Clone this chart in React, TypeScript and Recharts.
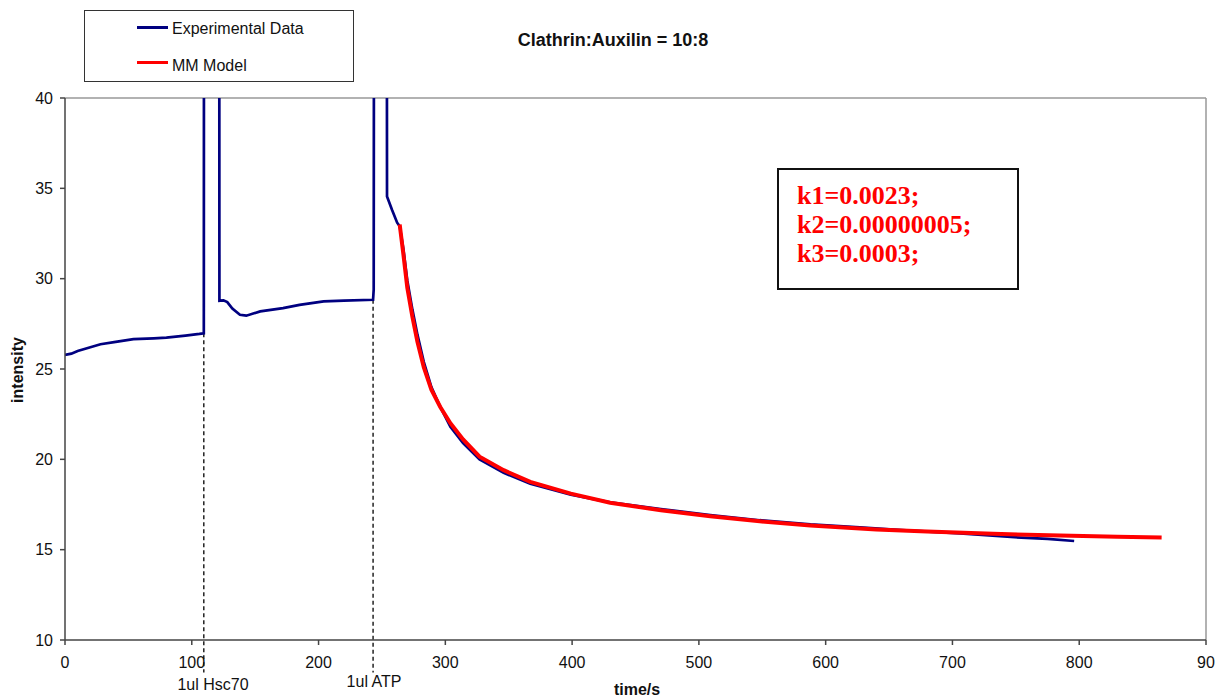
import { LineChart, Line, XAxis, YAxis, ReferenceLine } from 'recharts';

// experimental trace, [time s, intensity]; 60 = clipped injection spikes
const expTime = [0, 5, 10, 20, 28, 40, 54, 70, 80, 95, 106, 109.5, 109.7, 121.6, 121.8, 125, 128, 132, 138, 143, 154, 172, 185, 204, 220, 243, 243.5, 243.9, 253.7, 254, 258, 262, 264, 267, 270, 274, 278, 283, 289, 296, 304, 314, 327, 346, 367, 399, 430, 470, 509, 548, 588, 627, 660, 706, 746, 775, 796];
const expValue = [25.78, 25.85, 26.0, 26.2, 26.37, 26.5, 26.65, 26.7, 26.74, 26.85, 26.94, 26.98, 60, 60, 28.78, 28.8, 28.7, 28.35, 28.0, 27.95, 28.19, 28.37, 28.55, 28.74, 28.78, 28.83, 29.4, 60, 60, 34.55, 33.8, 33.1, 32.9, 31.6, 29.9, 28.3, 26.9, 25.4, 24.0, 22.9, 21.8, 20.9, 20.0, 19.25, 18.65, 18.05, 17.62, 17.25, 16.92, 16.63, 16.4, 16.24, 16.08, 15.9, 15.7, 15.6, 15.48];

// Michaelis-Menten model fit
const modelTime = [264, 267, 270, 274, 278, 283, 289, 296, 304, 314, 327, 346, 367, 399, 430, 470, 509, 548, 588, 640, 680, 732, 785, 830, 865];
const modelValue = [33.0, 31.3, 29.5, 27.9, 26.5, 25.1, 23.85, 22.9, 22.0, 21.1, 20.15, 19.4, 18.75, 18.1, 17.6, 17.18, 16.85, 16.57, 16.34, 16.12, 16.0, 15.88, 15.78, 15.72, 15.68];

const xTicks = [0, 100, 200, 300, 400, 500, 600, 700, 800, 900];
const yTicks = [10, 15, 20, 25, 30, 35, 40];

// injection markers
const markers = [
  { t: 109.5, v: 26.98, label: '1ul Hsc70' },
  { t: 243, v: 28.83, label: '1ul ATP' },
];

const params = ['k1=0.0023;', 'k2=0.00000005;', 'k3=0.0003;'];

const expData = expTime.map((t, i) => ({ t, v: expValue[i] }));
const modelData = modelTime.map((t, i) => ({ t, v: modelValue[i] }));

const sans = '"Liberation Sans", Arial, sans-serif';
const tickStyle = { fill: '#111', fontSize: 16, fontFamily: sans };

export default function App() {
  return (
    <div style={{ position: 'absolute', left: 0, top: 0, width: 1219, height: 698, background: '#fff', fontFamily: sans }}>
      <LineChart width={1219} height={698} margin={{ top: 98, right: 13, bottom: 28, left: 15 }}>
        <XAxis
          type="number"
          dataKey="t"
          domain={[0, 900]}
          ticks={xTicks}
          height={30}
          allowDataOverflow
          tick={tickStyle}
          tickSize={5}
          tickMargin={12}
          stroke="#444"
          strokeWidth={1.5}
          tickFormatter={v => (v === 900 ? '90' : String(v))}
        />
        <YAxis
          type="number"
          dataKey="v"
          domain={[10, 40]}
          ticks={yTicks}
          width={50}
          allowDataOverflow
          tick={tickStyle}
          tickSize={5}
          tickMargin={7}
          stroke="#444"
          strokeWidth={1.5}
        />
        <ReferenceLine y={40} stroke="#999" strokeWidth={1.5} />
        <ReferenceLine x={900} stroke="#999" strokeWidth={1.5} />
        {markers.map(m => (
          <ReferenceLine
            key={m.label}
            segment={[{ x: m.t, y: m.v }, { x: m.t, y: 8.2 }]}
            stroke="#000"
            strokeDasharray="4 3"
            strokeWidth={1.3}
            ifOverflow="visible"
          />
        ))}
        <Line data={expData} dataKey="v" type="linear" stroke="#000080" strokeWidth={2.7} dot={false} isAnimationActive={false} />
        <Line data={modelData} dataKey="v" type="linear" stroke="#ff0000" strokeWidth={4} dot={false} isAnimationActive={false} />
      </LineChart>

      {/* legend */}
      <div style={{ position: 'absolute', left: 84, top: 10, width: 268, height: 70, border: '1.5px solid #333' }} />
      <div style={{ position: 'absolute', left: 137, top: 26, width: 31, height: 3, background: '#000080' }} />
      <div style={{ position: 'absolute', left: 137, top: 61, width: 31, height: 3, background: '#ff0000' }} />
      <div style={{ position: 'absolute', left: 172, top: 20, fontSize: 16, lineHeight: '18px', color: '#111' }}>Experimental Data</div>
      <div style={{ position: 'absolute', left: 172, top: 57, fontSize: 16, lineHeight: '18px', color: '#111' }}>MM Model</div>

      {/* title */}
      <div style={{ position: 'absolute', left: 613, top: 40, transform: 'translate(-50%, -50%)', fontSize: 18, fontWeight: 'bold', whiteSpace: 'nowrap', color: '#111' }}>
        Clathrin:Auxilin = 10:8
      </div>

      {/* fitted parameters */}
      <div style={{ position: 'absolute', left: 777, top: 168, width: 238, height: 118, border: '2px solid #111' }} />
      {params.map((p, i) => (
        <div key={p} style={{ position: 'absolute', left: 797, top: 181 + i * 29, fontSize: 26, lineHeight: '29px', fontWeight: 'bold', color: '#ff0000', fontFamily: '"Liberation Serif", "Times New Roman", serif', whiteSpace: 'nowrap' }}>
          {p}
        </div>
      ))}

      {/* axis titles and marker labels */}
      <div style={{ position: 'absolute', left: 18, top: 370, transform: 'translate(-50%, -50%) rotate(-90deg)', fontSize: 16, fontWeight: 'bold', color: '#111' }}>intensity</div>
      <div style={{ position: 'absolute', left: 637, top: 690, transform: 'translate(-50%, -50%)', fontSize: 16, fontWeight: 'bold', color: '#111' }}>time/s</div>
      <div style={{ position: 'absolute', left: 213, top: 685, transform: 'translate(-50%, -50%)', fontSize: 16, whiteSpace: 'nowrap', color: '#111' }}>{markers[0].label}</div>
      <div style={{ position: 'absolute', left: 374, top: 682, transform: 'translate(-50%, -50%)', fontSize: 16, whiteSpace: 'nowrap', color: '#111' }}>{markers[1].label}</div>
    </div>
  );
}
